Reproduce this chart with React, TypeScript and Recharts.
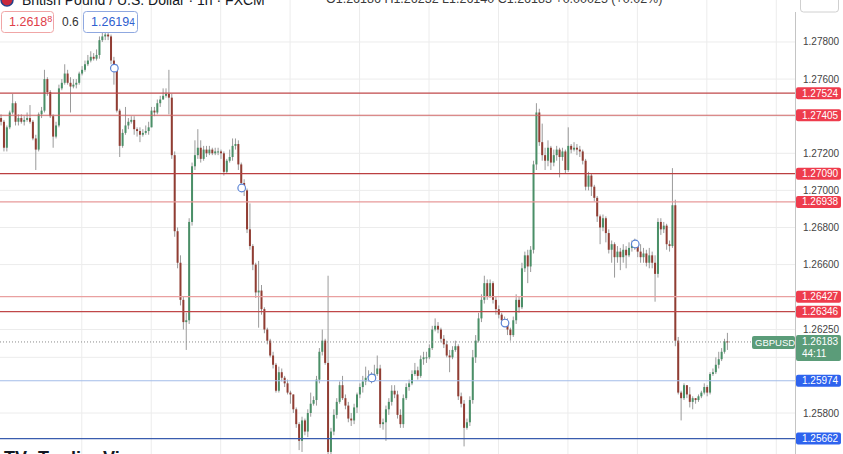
import React from 'react';
import { ComposedChart, Bar, XAxis, YAxis, ReferenceLine, ReferenceDot, CartesianGrid } from 'recharts';

// prices are stored as pips above 1.25000 (1 pip = 0.0001)
const BASE = 1.25;
const OPEN0 = 239;

const closePips = [
  237, 223, 234, 242, 247, 237, 239, 237, 238, 239,
  237, 228, 222, 241, 243, 260, 253, 240, 229, 235,
  255, 258, 263, 258, 256, 257, 258, 263, 265, 268,
  270, 272, 271, 273, 281, 283, 284, 283, 270, 266,
  243, 224, 231, 235, 237, 238, 233, 232, 230, 231,
  232, 234, 243, 242, 247, 249, 251, 252, 250, 219,
  178, 161, 141, 129, 130, 183, 213, 219, 223, 217,
  222, 220, 222, 220, 221, 221, 220, 210, 216, 218,
  224, 225, 214, 204, 200, 179, 170, 160, 145, 146,
  136, 125, 119, 111, 106, 92, 102, 99, 96, 91,
  90, 82, 74, 65, 76, 70, 80, 85, 87, 98,
  113, 119, 107, 59, 70, 79, 86, 95, 88, 84,
  77, 76, 83, 90, 94, 97, 99, 100, 98, 101,
  104, 74, 75, 82, 86, 92, 90, 79, 74, 88,
  94, 96, 101, 103, 100, 109, 110, 110, 115, 125,
  127, 125, 120, 117, 111, 110, 114, 116, 89, 85,
  72, 75, 87, 110, 119, 131, 141, 150, 143, 150,
  141, 136, 133, 130, 129, 125, 122, 130, 141, 137,
  158, 165, 159, 168, 214, 242, 226, 219, 216, 223,
  215, 219, 222, 218, 221, 211, 224, 222, 223, 222,
  221, 216, 202, 208, 202, 196, 186, 180, 185, 177,
  168, 171, 164, 167, 164, 168, 165, 169, 171, 171,
  167, 164, 166, 161, 165, 161, 155, 183, 179, 181,
  171, 170, 192, 119, 91, 88, 95, 90, 86, 88,
  87, 89, 91, 94, 91, 101, 102, 106, 109, 113,
  118.6, 118.3,
];

const highPips = [
  241, 238, 235, 243, 252, 248, 241, 241, 240, 242,
  246, 238, 230, 242, 245, 265, 261, 254, 241, 237,
  257, 260, 268, 265, 261, 260, 260, 264, 267, 270,
  273, 275, 274, 276, 283, 285, 286, 285, 284, 272,
  268, 244, 233, 245, 239, 240, 240, 234, 234, 233,
  235, 237, 245, 245, 249, 251, 255, 255, 265, 252,
  221, 180, 165, 143, 134, 185, 215, 227, 233, 227,
  224, 224, 224, 223, 223, 223, 222, 221, 217, 222,
  228, 228, 227, 215, 206, 201, 193, 171, 161, 162,
  149, 137, 126, 120, 113, 107, 105, 104, 100, 98,
  92, 90, 83, 75, 78, 77, 82, 91, 89, 100,
  115, 125, 120, 154, 72, 82, 88, 97, 100, 90,
  86, 80, 85, 91, 96, 100, 105, 103, 102, 106,
  111, 106, 77, 84, 88, 95, 95, 92, 82, 90,
  96, 98, 103, 107, 105, 111, 113, 113, 117, 127,
  131, 129, 126, 122, 119, 114, 116, 119, 117, 91,
  87, 77, 89, 114, 122, 134, 144, 154, 152, 152,
  151, 143, 138, 134, 132, 131, 126, 132, 144, 143,
  161, 167, 168, 170, 216, 247, 244, 236, 223, 227,
  224, 222, 224, 223, 223, 222, 234, 225, 226, 225,
  224, 222, 217, 210, 209, 203, 197, 187, 187, 186,
  179, 173, 172, 170, 169, 171, 170, 172, 173, 174,
  172, 171, 169, 168, 169, 167, 165, 185, 185, 183,
  182, 173, 212, 195, 121, 92, 96, 95, 94, 89,
  88, 90, 92, 96, 95, 102, 104, 110, 113, 115,
  120, 123.2,
];

const lowPips = [
  235, 221, 221, 233, 241, 235, 235, 236, 235, 237,
  236, 227, 211, 221, 239, 242, 251, 239, 223, 228,
  234, 254, 257, 257, 242, 255, 255, 257, 262, 264,
  267, 269, 270, 270, 271, 280, 281, 281, 268, 257,
  242, 218, 223, 230, 233, 236, 230, 229, 226, 229,
  230, 230, 234, 240, 241, 245, 249, 250, 241, 217,
  175, 158, 138, 125, 114, 128, 181, 211, 217, 215,
  216, 218, 219, 219, 219, 219, 217, 208, 209, 215,
  216, 222, 211, 202, 197, 177, 168, 157, 142, 126,
  133, 123, 117, 110, 104, 91, 91, 97, 94, 90,
  85, 80, 72, 60, 59, 68, 67, 78, 84, 84,
  96, 111, 106, 54, 55, 68, 77, 85, 87, 82,
  75, 73, 74, 80, 88, 91, 95, 97, 96, 97,
  100, 72, 71, 65, 79, 84, 88, 77, 72, 72,
  87, 92, 95, 100, 98, 99, 106, 107, 109, 114,
  124, 123, 118, 115, 110, 102, 109, 113, 87, 83,
  62, 71, 73, 85, 107, 118, 129, 139, 141, 142,
  139, 133, 131, 128, 127, 122, 119, 121, 128, 134,
  136, 156, 150, 156, 166, 211, 224, 216, 211, 213,
  211, 213, 216, 207, 216, 209, 210, 220, 221, 219,
  218, 214, 200, 200, 197, 194, 183, 171, 178, 172,
  166, 161, 153, 161, 157, 161, 158, 164, 167, 168,
  164, 161, 161, 159, 158, 158, 140, 153, 176, 177,
  168, 167, 169, 116, 90, 76, 87, 88, 83, 82,
  85, 86, 88, 90, 89, 90, 100, 101, 104, 108,
  112, 114,
];

// axis values (grid lines) and the tick labels that are visible
const gridPrices = [1.278, 1.276, 1.274, 1.272, 1.27, 1.268, 1.266, 1.2625, 1.261, 1.258];
const tickLabels = [1.278, 1.276, 1.272, 1.27, 1.268, 1.266, 1.2625, 1.258];
const dayTicks = [3.73, 27.73, 51.73, 75.73, 99.73, 123.73, 147.73, 171.73, 195.73, 219.73, 243.73, 267.73];
const xDomain = [-0.52, 274.2];
const yDomain = [1.25579, 1.280264];

// horizontal levels
const resistanceLevels = [1.27524, 1.27405, 1.2709, 1.26938, 1.26427, 1.26346];
const supportLevels = [1.25974, 1.25662];
const lastPrice = 1.26183;
const countdown = '44:11';
const symbol = 'GBPUSD';

// event markers
const markerIdx = [39, 83, 128, 174, 219];
const markerPrice = [1.27659, 1.27013, 1.25989, 1.26285, 1.26711];

const toP = (v: number) => BASE + v / 10000;

const candles = closePips.map((c, i) => {
  const o = i === 0 ? OPEN0 : closePips[i - 1];
  return {
    i,
    o: toP(o),
    c: toP(c),
    h: toP(highPips[i]),
    l: toP(lowPips[i]),
    range: [toP(lowPips[i]), toP(highPips[i])],
  };
});

const GREEN = '#4a8f67';
const RED = '#913d33';
const WICK = '#9a9a9a';
const FONT = '"Liberation Sans", Arial, sans-serif';

const resColors = ['#c0494a', '#cf6565', '#bb3f40', '#e79a9a', '#e9a0a0', '#c04748'];
const supColors = ['#a3bde9', '#3a5cae'];

const Candle = (props: any) => {
  const { x, y, width, height, payload } = props;
  if (x == null || y == null || !payload) return null;
  const { o, c, h, l } = payload;
  const cx = x + width / 2;
  const span = h - l;
  const k = span > 0 ? height / span : 0;
  const top = y + (h - Math.max(o, c)) * k;
  const bot = y + (h - Math.min(o, c)) * k;
  const color = c >= o ? GREEN : RED;
  return (
    <g>
      <line x1={cx} x2={cx} y1={y} y2={y + height} stroke={WICK} strokeWidth={1} />
      <rect x={cx - 1} y={top} width={2} height={Math.max(1, bot - top)} fill={color} />
    </g>
  );
};

const TickText = (props: any) => {
  const { viewBox, text } = props;
  if (!viewBox) return null;
  return (
    <text x={viewBox.x + viewBox.width + 8} y={viewBox.y + 3.5} fontSize={10} fill="#444" fontFamily={FONT}>
      {text}
    </text>
  );
};

const PriceTag = (props: any) => {
  const { viewBox, text, fill } = props;
  if (!viewBox) return null;
  const left = viewBox.x + viewBox.width;
  return (
    <g>
      <rect x={left + 1} y={viewBox.y - 6} width={45} height={12} rx={2} fill={fill} />
      <text x={left + 7} y={viewBox.y + 3.5} fontSize={10} fill="#fff" fontFamily={FONT}>
        {text}
      </text>
    </g>
  );
};

const LastTag = (props: any) => {
  const { viewBox, text, sub, name } = props;
  if (!viewBox) return null;
  const left = viewBox.x + viewBox.width;
  const lg = '#5b9c79';
  return (
    <g>
      <rect x={left - 43} y={viewBox.y - 6} width={43} height={13} rx={2} fill={lg} />
      <text x={left - 40} y={viewBox.y + 4} fontSize={9.5} fill="#fff" fontFamily={FONT}>
        {name}
      </text>
      <rect x={left + 1} y={viewBox.y - 7} width={45} height={26} rx={2} fill={lg} />
      <text x={left + 7} y={viewBox.y + 3.5} fontSize={10} fill="#fff" fontFamily={FONT}>
        {text}
      </text>
      <text x={left + 7} y={viewBox.y + 15.5} fontSize={10} fill="#fff" fontFamily={FONT}>
        {sub}
      </text>
    </g>
  );
};

export default function App() {
  return (
    <div
      style={{
        position: 'absolute',
        left: 0,
        top: 0,
        width: 843,
        height: 454,
        overflow: 'hidden',
        background: '#fff',
      }}
    >
      <ComposedChart
        width={843}
        height={454}
        data={candles}
        margin={{ top: 0, right: 48, bottom: 0, left: 0 }}
      >
        <CartesianGrid
          stroke="#ececec"
          horizontalValues={gridPrices}
          verticalValues={dayTicks}
        />
        <XAxis type="number" dataKey="i" domain={xDomain} allowDataOverflow hide />
        <YAxis type="number" domain={yDomain} allowDataOverflow hide />
        <Bar dataKey="range" barSize={2} shape={<Candle />} isAnimationActive={false} />
        {tickLabels.map((t) => (
          <ReferenceLine
            key={'t' + t}
            y={t}
            stroke="none"
            label={<TickText text={t.toFixed(5)} />}
          />
        ))}
        <ReferenceLine
          y={lastPrice}
          stroke="#8a8a8a"
          strokeDasharray="1 2"
          label={<LastTag text={lastPrice.toFixed(5)} sub={countdown} name={symbol} />}
        />
        {resistanceLevels.map((p, k) => (
          <ReferenceLine
            key={'r' + p}
            y={p}
            stroke={resColors[k]}
            strokeWidth={1.2}
            label={<PriceTag text={p.toFixed(5)} fill="#ee3c4d" />}
          />
        ))}
        {supportLevels.map((p, k) => (
          <ReferenceLine
            key={'s' + p}
            y={p}
            stroke={supColors[k]}
            strokeWidth={1.2}
            label={<PriceTag text={p.toFixed(5)} fill="#2e63ee" />}
          />
        ))}
        {markerIdx.map((m, k) => (
          <ReferenceDot
            key={'m' + m}
            x={m}
            y={markerPrice[k]}
            r={3.8}
            fill="#ffffff"
            stroke="#5b84d6"
            strokeWidth={1.2}
          />
        ))}
      </ComposedChart>

      <svg
        width={843}
        height={454}
        style={{ position: 'absolute', left: 0, top: 0, pointerEvents: 'none' }}
      >
        <line x1={795.5} x2={795.5} y1={12} y2={454} stroke="#c4c4c4" strokeWidth={1} />
        <circle cx={7} cy={0} r={6} fill="#c8283c" stroke="#24418a" strokeWidth={1.5} />
        <text x={22} y={5} fontSize={14} fill="#131722" fontFamily={FONT}>
          British Pound / U.S. Dollar · 1h · FXCM
        </text>
        <text x={326} y={3} fontSize={12.5} fill="#3a3a3a" fontFamily={FONT}>
          O1.26186 H1.26232 L1.26140 C1.26183 +0.00025 (+0.02%)
        </text>
        <rect x={800.5} y={-6} width={38} height={18} rx={3} fill="#fff" stroke="#d0d0d0" />

        <rect x={1.5} y={11.5} width={52} height={21} rx={3} fill="#fff" stroke="#f0a6a6" />
        <text x={9} y={26} fontSize={12.5} fill="#e0404a" fontFamily={FONT}>
          1.2618<tspan fontSize={9} dy={-4}>8</tspan>
        </text>
        <text x={62} y={26} fontSize={12} fill="#333" fontFamily={FONT}>
          0.6
        </text>
        <rect x={83.5} y={11.5} width={54} height={21} rx={3} fill="#fff" stroke="#8fa8e0" />
        <text x={91} y={26} fontSize={12.5} fill="#2f5fd0" fontFamily={FONT}>
          1.2619<tspan fontSize={10}>4</tspan>
        </text>

        <text x={4} y={464} fontSize={18} fontWeight="bold" fill="#131722" fontFamily={FONT}>
          TV
        </text>
        <text x={38} y={464} fontSize={18} fontWeight="bold" fill="#131722" fontFamily={FONT}>
          TradingView
        </text>
      </svg>
    </div>
  );
}
